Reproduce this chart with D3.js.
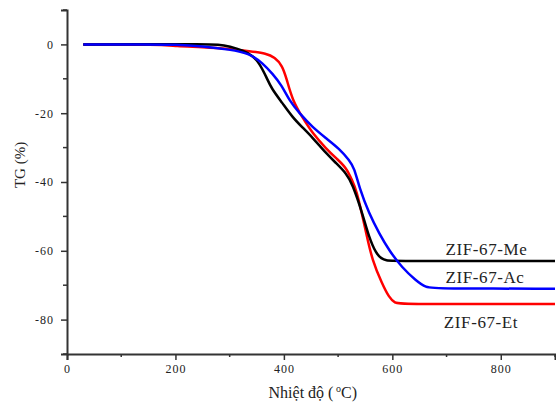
<!DOCTYPE html>
<html>
<head>
<meta charset="utf-8">
<script src="https://cdn.jsdelivr.net/npm/d3@7"></script>
<style>
  body { margin: 0; background: #fff; }
  text { font-family: "Liberation Serif", "Times New Roman", serif; fill: #222; }
</style>
</head>
<body>
<div id="chart"></div>
<script>
// temperature (°C) and mass change TG (%)
var tempMe = [30, 150, 250, 280, 300, 325, 342, 355, 368, 377, 397, 416, 434, 453, 478, 497, 515, 526, 545, 557, 570, 580, 589, 600, 900];
var tgMe   = [0, 0, 0.1, 0, -0.6, -1.8, -3.2, -5.5, -9.6, -12.8, -17, -21.2, -24.1, -27.1, -31.7, -34.6, -37.5, -40.4, -49.2, -56.1, -60.8, -62.3, -62.8, -63, -63];

var tempAc = [30, 150, 200, 250, 300, 337, 361, 379, 396, 410, 429, 453, 478, 502, 521, 530, 539, 557, 576, 594, 618, 644, 662, 680, 900];
var tgAc   = [0, 0, 0, -0.5, -1.5, -2.6, -5.5, -8.5, -11.9, -16.3, -20.1, -24.1, -27.3, -30.3, -33.7, -36, -41.6, -49.2, -55, -59.9, -64.9, -68.7, -70.7, -71, -71];

var tempEt = [30, 170, 200, 250, 300, 337, 368, 383, 397, 405, 416, 434, 453, 478, 497, 515, 526, 534, 545, 552, 563, 581, 594, 605, 615, 900];
var tgEt   = [0, 0, -0.5, -0.8, -1.3, -2, -2.6, -3.8, -6.1, -10, -16.3, -21.2, -25.9, -30.3, -33.2, -35.8, -39.6, -42.5, -50, -55, -62.8, -69.5, -73.6, -75.2, -75.5, -75.5];

var seriesNames = ["ZIF-67-Et", "ZIF-67-Me", "ZIF-67-Ac"];
var seriesColors = ["#ff0000", "#000000", "#0000ff"];

var xTicks = [0, 200, 400, 600, 800];
var yTicks = [0, -20, -40, -60, -80];

var W = 556, H = 405;
var margin = {top: 10, right: 1, bottom: 51, left: 67};
var width = W - margin.left - margin.right,
    height = H - margin.top - margin.bottom;

var svg = d3.select("#chart").append("svg")
    .attr("width", W).attr("height", H)
  .append("g")
    .attr("transform", "translate(" + margin.left + "," + margin.top + ")");

var x = d3.scaleLinear().domain([0, 900]).range([0, width]);
var y = d3.scaleLinear().domain([-90, 10]).range([height, 0]);

// minor ticks
var xMinor = d3.range(100, 901, 200);
var yMinor = d3.range(-90, 11, 20);

var gx = svg.append("g").attr("transform", "translate(0," + height + ")");
gx.call(d3.axisBottom(x).tickValues(xTicks).tickSize(6).tickPadding(4).tickFormat(function(d) { return String(d); }));
gx.selectAll(".minor").data(xMinor).enter().append("line")
  .attr("x1", function(d) { return x(d); }).attr("x2", function(d) { return x(d); })
  .attr("y1", 0).attr("y2", 3).attr("stroke", "#333").attr("stroke-width", 1.5);

var gy = svg.append("g");
gy.call(d3.axisLeft(y).tickValues(yTicks).tickSize(6).tickPadding(7).tickFormat(function(d) { return String(d); }));
gy.selectAll(".minor").data(yMinor).enter().append("line")
  .attr("y1", function(d) { return y(d); }).attr("y2", function(d) { return y(d); })
  .attr("x1", 0).attr("x2", -4).attr("stroke", "#333").attr("stroke-width", 1.5);

gx.attr("font-family", "'Liberation Serif', serif");
gy.attr("font-family", "'Liberation Serif', serif");
svg.selectAll(".domain").attr("stroke", "#333").attr("stroke-width", 2);
svg.selectAll(".tick line").attr("stroke", "#333").attr("stroke-width", 1.5);
svg.selectAll(".tick text")
  .style("font-family", "'Liberation Serif', serif")
  .style("font-size", "12px")
  .style("letter-spacing", "1px")
  .attr("fill", "#333");

// axis titles
svg.append("text")
  .attr("x", x(450) - 10)
  .attr("y", height + 44)
  .style("text-anchor", "middle")
  .style("font-size", "16px")
  .text("Nhiệt độ (");
svg.append("text")
  .attr("x", x(450) + 25)
  .attr("y", height + 44)
  .style("text-anchor", "start")
  .style("font-size", "16px")
  .html("<tspan dy='-6' font-size='10px'>o</tspan><tspan dy='6'>C)</tspan>");

svg.append("text")
  .attr("transform", "rotate(-90)")
  .attr("x", -155)
  .attr("y", -42)
  .style("text-anchor", "middle")
  .style("font-size", "15px")
  .text("TG (%)");

// curves
var line = d3.line()
  .x(function(d) { return x(d[0]); })
  .y(function(d) { return y(d[1]); })
  .curve(d3.curveBasis);

var seriesData = [d3.zip(tempEt, tgEt), d3.zip(tempMe, tgMe), d3.zip(tempAc, tgAc)];

svg.selectAll(".curve")
  .data(seriesData)
  .enter()
  .append("path")
    .attr("class", "curve")
    .attr("d", line)
    .attr("fill", "none")
    .attr("stroke", function(d, i) { return seriesColors[i]; })
    .attr("stroke-width", 2.5);

// series labels
var labelPos = [[695, -82.5], [698, -61.3], [698, -69.5]];
svg.selectAll(".lab")
  .data(seriesNames)
  .enter()
  .append("text")
    .attr("x", function(d, i) { return x(labelPos[i][0]); })
    .attr("y", function(d, i) { return y(labelPos[i][1]); })
    .style("font-size", "17px")
    .style("letter-spacing", "0.6px")
    .text(function(d) { return d; });
</script>
</body>
</html>
